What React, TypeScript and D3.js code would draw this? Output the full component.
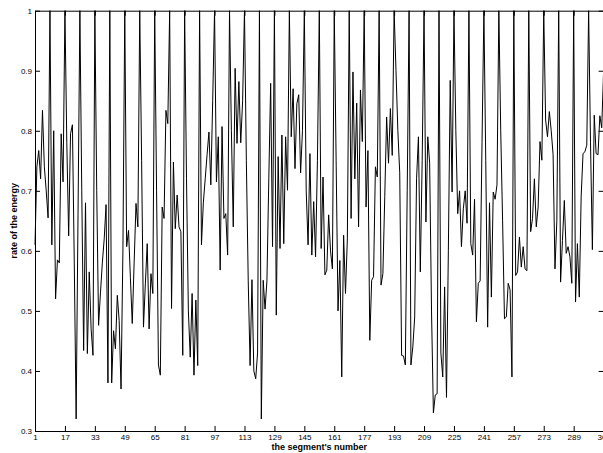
import React, { useEffect, useRef } from 'react';
import * as d3 from 'd3';

// rate of the energy per segment (8 segments per row)
const energyRate = [
  0.61, 0.74, 0.767, 0.72, 0.834, 0.74, 0.70, 0.655,
  1, 0.61, 0.80, 0.52, 0.585, 0.58, 0.795, 0.715,
  1, 0.78, 0.625, 0.795, 0.81, 0.58, 0.32, 0.66,
  1, 0.70, 0.434, 0.68, 0.429, 0.565, 0.47, 0.426,
  1, 0.70, 0.476, 0.53, 0.58, 0.62, 0.677, 0.38,
  1, 0.38, 0.467, 0.437, 0.526, 0.484, 0.37, 0.60,
  1, 0.607, 0.634, 0.556, 0.479, 0.58, 0.679, 0.64,
  1, 0.75, 0.473, 0.545, 0.612, 0.47, 0.562, 0.529,
  1, 0.70, 0.41, 0.393, 0.673, 0.654, 0.834, 0.812,
  1, 0.504, 0.748, 0.637, 0.693, 0.64, 0.632, 0.426,
  1, 0.72, 0.50, 0.423, 0.529, 0.393, 0.518, 0.409,
  1, 0.61, 0.68, 0.72, 0.76, 0.798, 0.71, 0.85,
  1, 0.715, 0.79, 0.568, 0.807, 0.654, 0.662, 0.593,
  1, 0.80, 0.64, 0.904, 0.779, 0.882, 0.78, 0.85,
  1, 0.75, 0.55, 0.409, 0.552, 0.40, 0.387, 0.43,
  1, 0.32, 0.551, 0.503, 0.55, 0.72, 0.879, 0.607,
  1, 0.493, 0.757, 0.604, 0.793, 0.612, 0.79, 0.701,
  1, 0.79, 0.87, 0.737, 0.845, 0.86, 0.73, 0.80,
  1, 0.70, 0.61, 0.762, 0.593, 0.682, 0.59, 0.75,
  1, 0.604, 0.723, 0.56, 0.568, 0.66, 0.60, 0.57,
  1, 0.75, 0.50, 0.584, 0.39, 0.626, 0.529, 0.62,
  1, 0.654, 0.898, 0.72, 0.846, 0.64, 0.868, 0.782,
  1, 0.673, 0.767, 0.451, 0.551, 0.557, 0.74, 0.723,
  1, 0.543, 0.562, 0.69, 0.823, 0.746, 0.837, 0.759,
  1, 0.90, 0.80, 0.73, 0.426, 0.425, 0.41, 0.70,
  1, 0.41, 0.44, 0.49, 0.72, 0.79, 0.565, 0.75,
  1, 0.648, 0.79, 0.746, 0.50, 0.33, 0.36, 0.362,
  1, 0.43, 0.39, 0.54, 0.356, 0.60, 0.884, 0.698,
  1, 0.80, 0.662, 0.70, 0.607, 0.67, 0.70, 0.646,
  1, 0.612, 0.593, 0.686, 0.482, 0.546, 0.55, 0.78,
  1, 0.75, 0.473, 0.68, 0.523, 0.698, 0.686, 0.71,
  1, 0.80, 0.65, 0.487, 0.49, 0.546, 0.535, 0.39,
  1, 0.559, 0.565, 0.623, 0.573, 0.607, 0.57, 0.567,
  1, 0.632, 0.654, 0.72, 0.64, 0.673, 0.782, 0.751,
  1, 0.818, 0.79, 0.832, 0.80, 0.76, 0.57, 0.65,
  1, 0.548, 0.617, 0.684, 0.596, 0.607, 0.59, 0.546,
  1, 0.515, 0.612, 0.523, 0.69, 0.762, 0.765, 0.776,
  1, 0.78, 0.602, 0.826, 0.762, 0.76, 0.825, 0.805,
  0.90
];

const xTicks = [1, 17, 33, 49, 65, 81, 97, 113, 129, 145, 161, 177, 193, 209, 225, 241, 257, 273, 289, 305];
const yTicks = [0.3, 0.4, 0.5, 0.6, 0.7, 0.8, 0.9, 1];

const FONT = '"Liberation Sans", Arial, Helvetica, sans-serif';

const App = () => {
  const svgRef = useRef<SVGSVGElement>(null);

  useEffect(() => {
    const svg = d3.select(svgRef.current);
    svg.selectAll('*').remove();

    const left = 35, right = 603.6, top = 10.7, bottom = 431;

    const x = d3.scaleLinear().domain([1, 305]).range([left, right]);
    const y = d3.scaleLinear().domain([0.3, 1]).range([bottom, top]);

    const fmt = (d) => (d === 1 ? '1' : d3.format('.1f')(d));

    const styleAxis = (g) => {
      g.attr('font-family', FONT).attr('font-size', 8);
      g.select('.domain').attr('stroke', '#000');
      g.selectAll('.tick line').attr('stroke', '#000');
      g.selectAll('.tick text').attr('fill', '#000');
    };

    // bottom axis with labels
    svg.append('g')
      .attr('transform', `translate(0,${bottom})`)
      .call(d3.axisBottom(x).tickValues(xTicks).tickFormat(d3.format('d')).tickSize(-5).tickSizeOuter(0).tickPadding(3))
      .call(styleAxis);

    // top axis (ticks only)
    svg.append('g')
      .attr('transform', `translate(0,${top})`)
      .call(d3.axisTop(x).tickValues(xTicks).tickFormat(() => '').tickSize(-5).tickSizeOuter(0))
      .call(styleAxis);

    // left axis with labels
    svg.append('g')
      .attr('transform', `translate(${left},0)`)
      .call(d3.axisLeft(y).tickValues(yTicks).tickFormat(fmt).tickSize(-5).tickSizeOuter(0).tickPadding(3))
      .call(styleAxis);

    // right axis (ticks only)
    svg.append('g')
      .attr('transform', `translate(${right},0)`)
      .call(d3.axisRight(y).tickValues(yTicks).tickFormat(() => '').tickSize(-5).tickSizeOuter(0))
      .call(styleAxis);

    // energy line
    const line = d3.line()
      .x((d, i) => x(i + 1))
      .y((d) => y(d));

    svg.append('path')
      .datum(energyRate)
      .attr('d', line)
      .attr('fill', 'none')
      .attr('stroke', '#000')
      .attr('stroke-width', 1);

    // axis titles
    svg.append('text')
      .attr('x', (left + right) / 2)
      .attr('y', 450)
      .attr('text-anchor', 'middle')
      .attr('font-family', FONT)
      .attr('font-size', 9)
      .attr('font-weight', 'bold')
      .text("the segment's number");

    svg.append('text')
      .attr('transform', `translate(17,${(top + bottom) / 2}) rotate(-90)`)
      .attr('text-anchor', 'middle')
      .attr('font-family', FONT)
      .attr('font-size', 9)
      .attr('font-weight', 'bold')
      .text('rate of the energy');
  }, []);

  return (
    <svg
      ref={svgRef}
      width={603}
      height={453}
      style={{ position: 'absolute', left: 0, top: 0, background: '#fff' }}
    />
  );
};

export default App;
